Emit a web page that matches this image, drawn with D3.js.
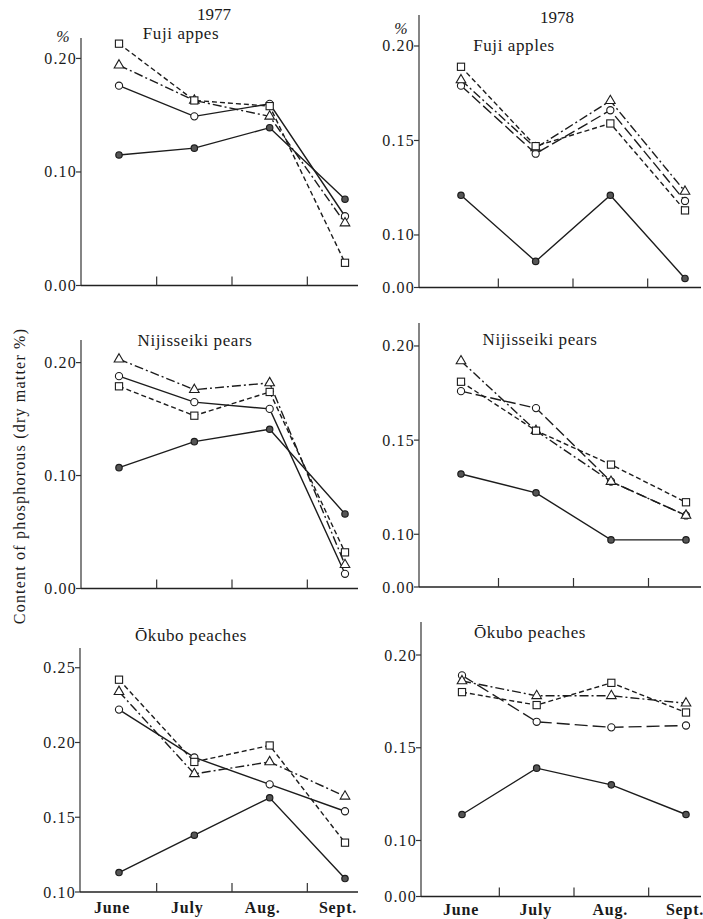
<!DOCTYPE html>
<html>
<head>
<meta charset="utf-8">
<script src="https://cdn.jsdelivr.net/npm/d3@7/dist/d3.min.js"></script>
<style>
  html, body { margin: 0; padding: 0; background: #fff; }
  svg { display: block; }
</style>
</head>
<body>
<svg id="chart" width="703" height="919"></svg>
<script>
// ---------------- DATA ----------------
const months = ["June", "July", "Aug.", "Sept."];
const seriesKeys = ["filled", "circle", "triangle", "square"];

// 1977 Fuji apples
const fuji1977Filled   = [0.115, 0.121, 0.139, 0.076];
const fuji1977Circle   = [0.176, 0.149, 0.160, 0.061];
const fuji1977Triangle = [0.194, 0.163, 0.149, 0.055];
const fuji1977Square   = [0.213, 0.163, 0.158, 0.020];
// 1978 Fuji apples
const fuji1978Filled   = [0.121, 0.086, 0.121, 0.077];
const fuji1978Circle   = [0.179, 0.143, 0.166, 0.118];
const fuji1978Triangle = [0.182, 0.146, 0.171, 0.123];
const fuji1978Square   = [0.189, 0.147, 0.159, 0.113];
// 1977 Nijisseiki pears
const pear1977Filled   = [0.107, 0.130, 0.141, 0.066];
const pear1977Circle   = [0.188, 0.165, 0.159, 0.013];
const pear1977Triangle = [0.203, 0.176, 0.182, 0.021];
const pear1977Square   = [0.179, 0.153, 0.174, 0.032];
// 1978 Nijisseiki pears
const pear1978Filled   = [0.132, 0.122, 0.097, 0.097];
const pear1978Circle   = [0.176, 0.167, 0.128, 0.110];
const pear1978Triangle = [0.192, 0.155, 0.128, 0.110];
const pear1978Square   = [0.181, 0.155, 0.137, 0.117];
// 1977 Okubo peaches
const peach1977Filled   = [0.113, 0.138, 0.163, 0.109];
const peach1977Circle   = [0.222, 0.190, 0.172, 0.154];
const peach1977Triangle = [0.234, 0.179, 0.187, 0.164];
const peach1977Square   = [0.242, 0.187, 0.198, 0.133];
// 1978 Okubo peaches
const peach1978Filled   = [0.114, 0.139, 0.130, 0.114];
const peach1978Circle   = [0.189, 0.164, 0.161, 0.162];
const peach1978Triangle = [0.186, 0.178, 0.178, 0.174];
const peach1978Square   = [0.180, 0.173, 0.185, 0.169];

// y tick values (a break tick labelled "0.00" is drawn at the axis bottom where the axis is broken)
const ticksFuji1977  = [0.00, 0.10, 0.20];
const ticksFuji1978  = [0.10, 0.15, 0.20];
const ticksPear1977  = [0.00, 0.10, 0.20];
const ticksPear1978  = [0.10, 0.15, 0.20];
const ticksPeach1977 = [0.10, 0.15, 0.20, 0.25];
const ticksPeach1978 = [0.10, 0.15, 0.20];

const titles = ["Fuji appes", "Fuji apples", "Nijisseiki pears", "Nijisseiki pears", "\u014Ckubo peaches", "\u014Ckubo peaches"];
const years = ["1977", "1978"];
const yAxisTitle = "Content of phosphorous (dry matter %)";

// ---------------- LAYOUT ----------------
const panels = [
  { series: [fuji1977Filled, fuji1977Circle, fuji1977Triangle, fuji1977Square], ticks: ticksFuji1977,
    brk: false, domain: [0, 0.218], x0: 81, x1: 358, yTop: 38, yBot: 285.5, xr: [119, 345],
    title: titles[0], tx: 181, ty: 39, pct: [63, 42], year: years[0], yx: 214, yy: 20, circleDash: null, showX: false },
  { series: [fuji1978Filled, fuji1978Circle, fuji1978Triangle, fuji1978Square], ticks: ticksFuji1978,
    brk: true, domain: [0.0722, 0.2164], x0: 419, x1: 701, yTop: 15, yBot: 287.5, xr: [461, 685],
    title: titles[1], tx: 514, ty: 51, pct: [401, 34], year: years[1], yx: 557, yy: 23, circleDash: "11,4", showX: false },
  { series: [pear1977Filled, pear1977Circle, pear1977Triangle, pear1977Square], ticks: ticksPear1977,
    brk: false, domain: [0, 0.220], x0: 81, x1: 358, yTop: 340, yBot: 588.5, xr: [119, 345],
    title: titles[2], tx: 195, ty: 346, circleDash: null, showX: false },
  { series: [pear1978Filled, pear1978Circle, pear1978Triangle, pear1978Square], ticks: ticksPear1978,
    brk: true, domain: [0.072, 0.2122], x0: 419, x1: 701, yTop: 323, yBot: 587, xr: [461, 686],
    title: titles[3], tx: 540, ty: 345, circleDash: "11,4", showX: false },
  { series: [peach1977Filled, peach1977Circle, peach1977Triangle, peach1977Square], ticks: ticksPeach1977,
    brk: false, domain: [0.10, 0.2632], x0: 80, x1: 358, yTop: 648, yBot: 892, xr: [119, 345],
    title: titles[4], tx: 191, ty: 641, circleDash: null, showX: true, labelShift: -7, labelY: 913 },
  { series: [peach1978Filled, peach1978Circle, peach1978Triangle, peach1978Square], ticks: ticksPeach1978,
    brk: true, domain: [0.0698, 0.2178], x0: 421, x1: 701, yTop: 622, yBot: 896.5, xr: [462, 686],
    title: titles[5], tx: 530, ty: 638, circleDash: "13,5", showX: true, labelShift: -1, labelY: 915 }
];

const dashes = { filled: null, triangle: "9,3,2,3", square: "5,3" };
const ink = "#1c1c1c";
const serif = "'Liberation Serif', 'DejaVu Serif', serif";

const svg = d3.select("#chart").attr("font-family", serif);
const fmt = d3.format(".2f");

function txt(sel) {
  return sel.append("text").attr("font-family", serif).attr("fill", "#1a1a1a");
}

panels.forEach(p => {
  const g = svg.append("g");
  const x = d3.scalePoint().domain(months).range(p.xr);
  const y = d3.scaleLinear().domain(p.domain).range([p.yBot, p.yTop]);

  // axes lines
  g.append("line").attr("x1", p.x0).attr("x2", p.x0).attr("y1", p.yTop).attr("y2", p.yBot)
    .attr("stroke", "#333").attr("stroke-width", 1.2);
  g.append("line").attr("x1", p.x0).attr("x2", p.x1).attr("y1", p.yBot).attr("y2", p.yBot)
    .attr("stroke", "#222").attr("stroke-width", 1.6);

  // y ticks
  const tickList = p.ticks.map(v => ({ v, pos: y(v), label: fmt(v) }));
  if (p.brk) tickList.unshift({ v: 0, pos: y(p.domain[0]), label: "0.00" });
  tickList.forEach(t => {
    g.append("line").attr("x1", p.x0 - 5).attr("x2", p.x0).attr("y1", t.pos).attr("y2", t.pos)
      .attr("stroke", "#333").attr("stroke-width", 1.2);
    txt(g).attr("x", p.x0 - 4).attr("y", t.pos + 5.5)
      .attr("text-anchor", "end").attr("font-size", 16).attr("letter-spacing", 1.2)
      .text(t.label);
  });

  // x ticks between months (pointing inward)
  for (let i = 0; i < months.length - 1; i++) {
    const tx = (x(months[i]) + x(months[i + 1])) / 2;
    g.append("line").attr("x1", tx).attr("x2", tx).attr("y1", p.yBot).attr("y2", p.yBot - 9)
      .attr("stroke", "#333").attr("stroke-width", 1.2);
  }

  if (p.showX) {
    months.forEach(m => {
      txt(g).attr("x", x(m) + p.labelShift).attr("y", p.labelY)
        .attr("text-anchor", "middle").attr("font-size", 16).attr("font-weight", "bold")
        .attr("letter-spacing", 0.8).text(m);
    });
  }

  // titles
  txt(g).attr("x", p.tx).attr("y", p.ty).attr("text-anchor", "middle")
    .attr("font-size", 17).attr("letter-spacing", 0.6).text(p.title);
  if (p.year) {
    txt(g).attr("x", p.yx).attr("y", p.yy).attr("text-anchor", "middle")
      .attr("font-size", 17).text(p.year);
    txt(g).attr("x", p.pct[0]).attr("y", p.pct[1]).attr("text-anchor", "middle")
      .attr("font-size", 16).attr("font-style", "italic").text("%");
  }

  // lines
  const line = d3.line().x((d, i) => x(months[i])).y(d => y(d));
  seriesKeys.forEach((k, si) => {
    const dash = k === "circle" ? p.circleDash : dashes[k];
    g.append("path").datum(p.series[si]).attr("d", line)
      .attr("fill", "none").attr("stroke", ink).attr("stroke-width", 1.4)
      .attr("stroke-dasharray", dash);
  });

  // markers
  seriesKeys.forEach((k, si) => {
    p.series[si].forEach((v, i) => {
      const cx = x(months[i]), cy = y(v);
      if (k === "filled") {
        g.append("circle").attr("cx", cx).attr("cy", cy).attr("r", 3.2)
          .attr("fill", "#555").attr("stroke", ink).attr("stroke-width", 1.2);
      } else if (k === "circle") {
        g.append("circle").attr("cx", cx).attr("cy", cy).attr("r", 3.6)
          .attr("fill", "#fff").attr("stroke", ink).attr("stroke-width", 1.1);
      } else if (k === "triangle") {
        g.append("path").attr("d", d3.symbol(d3.symbolTriangle, 40)())
          .attr("transform", `translate(${cx},${cy})`)
          .attr("fill", "#fff").attr("stroke", ink).attr("stroke-width", 1.1);
      } else {
        g.append("rect").attr("x", cx - 3.6).attr("y", cy - 3.6).attr("width", 7.2).attr("height", 7.2)
          .attr("fill", "#fff").attr("stroke", ink).attr("stroke-width", 1.1);
      }
    });
  });
});

// y axis title
txt(svg).attr("transform", "translate(25,476) rotate(-90)")
  .attr("text-anchor", "middle").attr("font-size", 16).attr("letter-spacing", 1.2)
  .text(yAxisTitle);
</script>
</body>
</html>
